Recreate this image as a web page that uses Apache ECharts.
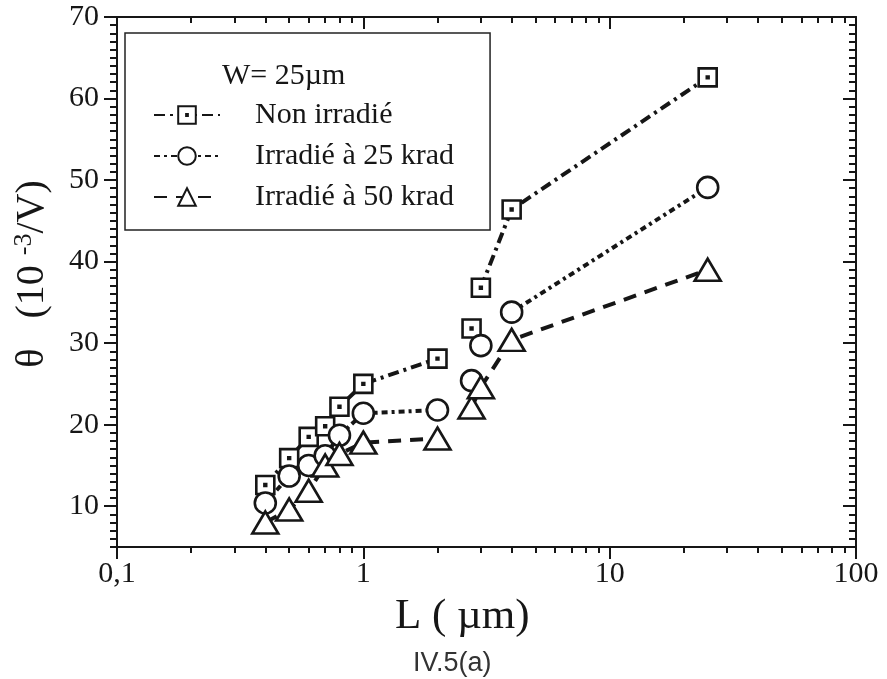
<!DOCTYPE html>
<html>
<head>
<meta charset="utf-8">
<script src="https://cdn.jsdelivr.net/npm/echarts@6/dist/echarts.min.js"></script>
<style>
  html, body { margin: 0; padding: 0; background: #fff; }
  #chart { width: 887px; height: 679px; }
</style>
</head>
<body>
<div id="chart"></div>
<script>
// channel length L (um)
var L = [0.4, 0.5, 0.6, 0.7, 0.8, 1, 2, 2.75, 3, 4, 25];
// theta (10^-3 / V)
var thetaNon = [12.6, 15.9, 18.5, 19.8, 22.2, 25.0, 28.1, 31.8, 36.8, 46.4, 62.6];
var theta25 = [10.4, 13.7, 15.0, 16.2, 18.7, 21.4, 21.8, 25.4, 29.7, 33.8, 49.1];
var theta50 = [8.0, 9.6, 11.9, 15.0, 16.4, 17.8, 18.3, 22.1, 24.6, 30.4, 39.0];
// the dashed line is cut after these points
var gapsNon = [6, 7];
var gaps25 = [6, 7, 8];
var gaps50 = [6];

var names = ['Non irradié', 'Irradié à 25 krad', 'Irradié à 50 krad'];
var xTickValues = [0.1, 1, 10, 100];
var xTickLabels = ['0,1', '1', '10', '100'];
var xMinorTicks = [0.2, 0.3, 0.4, 0.5, 0.6, 0.7, 0.8, 0.9, 2, 3, 4, 5, 6, 7, 8, 9, 20, 30, 40, 50, 60, 70, 80, 90];
var yTickValues = [10, 20, 30, 40, 50, 60, 70];

var serif = 'Liberation Serif';
var ink = '#161616';

function buildData(vals, gaps) {
    var out = [];
    for (var i = 0; i < L.length; i++) {
        out.push([L[i], vals[i]]);
        if (gaps.indexOf(i) >= 0) out.push([L[i], '-']);
    }
    return out;
}

var squareDot = 'path://M0,0L20,0L20,20L0,20Z M9,9L11,9L11,11L9,11Z';

function makeSeries(name, vals, gaps, symbol, size, dash) {
    return {
        name: name,
        type: 'line',
        xAxisIndex: 0,
        yAxisIndex: 0,
        data: buildData(vals, gaps),
        symbol: symbol,
        symbolSize: size,
        showAllSymbol: true,
        connectNulls: false,
        itemStyle: { color: '#fff', borderColor: ink, borderWidth: 2.6, opacity: 1 },
        lineStyle: { color: ink, width: 4, type: dash },
        emphasis: { disabled: true },
        animation: false
    };
}

function xAxisBase(pos, ticks, len, inside, withLine) {
    var ax = {
        type: 'log', logBase: 10, min: 0.1, max: 100, position: pos,
        splitLine: { show: false },
        axisLine: { show: withLine, lineStyle: { color: ink, width: 2 } },
        axisTick: { show: true, inside: inside, length: len, lineStyle: { color: ink, width: 2 } },
        axisLabel: { show: false }
    };
    if (ticks) ax.axisTick.customValues = ticks;
    return ax;
}

function yAxisBase(pos, ticks, len, inside, withLine) {
    var ax = {
        type: 'value', min: 5, max: 70, interval: 1, position: pos,
        splitLine: { show: false },
        axisLine: { show: withLine, lineStyle: { color: ink, width: 2 } },
        axisTick: { show: true, inside: inside, length: len, lineStyle: { color: ink, width: 2 } },
        axisLabel: { show: false }
    };
    if (ticks) ax.axisTick.customValues = ticks;
    return ax;
}

var xMain = xAxisBase('bottom', xTickValues, 12, false, true);
xMain.axisLabel = {
    show: true, margin: 12,
    fontFamily: serif, fontSize: 30, color: ink,
    formatter: function (v) {
        for (var i = 0; i < xTickValues.length; i++) {
            if (Math.abs(v - xTickValues[i]) < 1e-9) return xTickLabels[i];
        }
        return '';
    }
};

var yMain = yAxisBase('left', null, 7, false, true);
yMain.axisLabel = {
    show: true, margin: 18, customValues: yTickValues,
    fontFamily: serif, fontSize: 30, color: ink
};
yMain.name = '{a|θ   (10 }{s|-3}{a|/V)}';
yMain.nameLocation = 'middle';
yMain.nameGap = 64;
yMain.nameTextStyle = {
    padding: [0, 0, 0, 16],
    rich: {
        a: { fontFamily: serif, fontSize: 40, color: ink },
        s: { fontFamily: serif, fontSize: 26, color: ink, verticalAlign: 'top', padding: [0, 0, 16, 0] }
    }
};

var chart = echarts.init(document.getElementById('chart'), null, { renderer: 'canvas' });

chart.setOption({
    backgroundColor: '#fff',
    animation: false,
    grid: { left: 117, right: 31, top: 17, bottom: 132, containLabel: false },
    title: [
        { text: 'W= 25µm', left: 217, top: 56, textStyle: { fontFamily: serif, fontSize: 30, fontWeight: 'normal', color: ink } },
        { text: 'L ( µm)', left: 390, top: 590, textStyle: { fontFamily: serif, fontSize: 43, fontWeight: 'normal', color: ink } },
        { text: 'IV.5(a)', left: 408, top: 645, textStyle: { fontFamily: 'Liberation Sans', fontSize: 27, fontWeight: 'normal', color: '#333' } }
    ],
    legend: {
        orient: 'vertical', left: 125, top: 33,
        padding: [67, 36, 18, 28],
        itemWidth: 66, itemHeight: 22, itemGap: 11,
        borderColor: '#222', borderWidth: 1.5,
        selectedMode: false,
        textStyle: { fontFamily: serif, fontSize: 30, color: ink, padding: [0, 0, 0, 30] },
        data: names
    },
    xAxis: [
        xMain,
        xAxisBase('bottom', xMinorTicks, 6, false, false),
        xAxisBase('top', xTickValues, 12, true, true),
        xAxisBase('top', xMinorTicks, 6, true, false)
    ],
    yAxis: [
        yMain,
        yAxisBase('left', yTickValues, 13, false, false),
        yAxisBase('right', null, 7, true, true),
        yAxisBase('right', yTickValues, 13, true, false)
    ],
    series: [
        makeSeries(names[0], thetaNon, gapsNon, squareDot, 18, [11, 5, 3, 5]),
        makeSeries(names[1], theta25, gaps25, 'circle', 21, [6, 4, 3, 4]),
        makeSeries(names[2], theta50, gaps50, 'triangle', [26, 22], [13, 9])
    ]
});
</script>
</body>
</html>
